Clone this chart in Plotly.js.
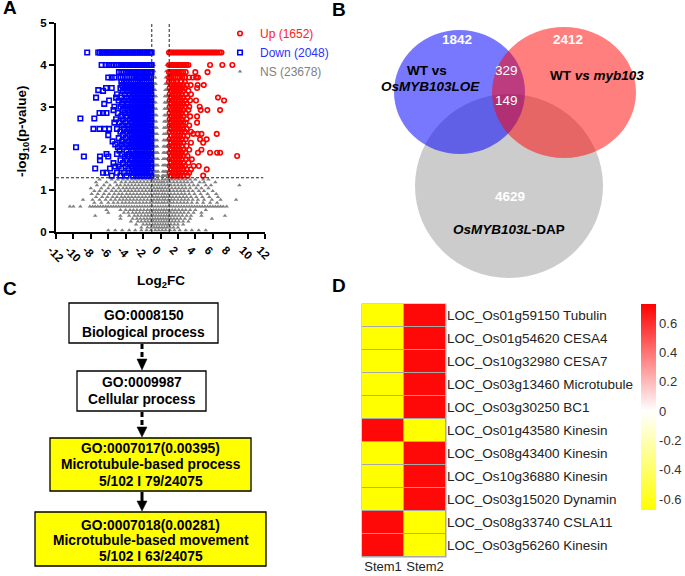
<!DOCTYPE html>
<html><head><meta charset="utf-8">
<script src="https://cdn.plot.ly/plotly-3.0.1.min.js"></script>
<style>body{margin:0;background:#fff}#chart{width:685px;height:576px}</style>
</head><body><div id="chart"></div><script>
const W = 685, H = 576;
const px = v => v / W, py = v => 1 - v / H;
const FONT = 'Liberation Sans, Arial, sans-serif';

// ---------- Panel A: volcano plot (rows of points: [-log10 p, [log2FC...]]) ----------
const upRows = [
 [4.30,[0.98,1.15,1.35,1.55,1.75,1.95,2.15,2.35,2.55,2.75,2.95,3.15,3.35,3.55,3.75,3.95,4.15,4.35,4.55,4.75,4.95,5.15,5.35,5.55,5.75,5.95,6.15,6.35,6.55,6.8,7.0]],
 [4.00,[0.98,1.2,1.4,1.6,1.8,2.0,2.2,2.4,2.6,2.8,3.0,3.2,5.69,7.1,8.25]],
 [3.83,[0.98,1.2,1.4,1.6,1.8,2.0,2.2,2.4,2.6,2.9,4.0,5.4]],
 [3.70,[0.98,1.2,1.45,1.7,1.95,2.2,2.5,2.8,3.3,3.7,4.1,4.3]],
 [3.60,[0.98,1.25,1.5,1.8,2.4,2.8]],
 [3.52,[1.2,1.55,1.9,2.25,2.6,3.0,3.47,4.27,4.97]],
 [3.45,[1.05,1.4,1.75,2.1,2.45,2.8,4.2]],
 [3.38,[1.2,1.55,1.9,2.25,2.6,3.2]],
 [3.30,[1.05,1.4,1.75,2.1,2.45,2.9,3.5]],
 [3.22,[1.2,1.55,1.9,2.25,2.6,3.1,6.6]],
 [3.15,[1.05,1.4,1.75,2.1,2.45,2.8,3.4,4.08,7.3]],
 [3.07,[1.2,1.55,1.9,2.25,2.6,3.0]],
 [3.00,[1.05,1.4,1.75,2.1,2.45,2.85,3.3,4.5]],
 [2.92,[1.2,1.55,1.9,2.25,2.6,3.2,4.62,5.38,6.84]],
 [2.85,[1.05,1.4,1.75,2.1,2.45,2.9]],
 [2.77,[1.2,1.55,1.9,2.25,2.6,3.4,4.2]],
 [2.70,[1.05,1.4,1.75,2.1,2.45,3.0]],
 [2.62,[1.2,1.55,1.9,2.25,2.6,2.9,4.2]],
 [2.55,[1.05,1.4,1.75,2.1,2.45,3.3]],
 [2.47,[1.2,1.55,1.9,2.25,2.6,3.0]],
 [2.40,[1.05,1.4,1.75,2.1,2.45,2.8,3.5]],
 [2.35,[3.77,4.27,4.7,6.46]],
 [2.30,[1.2,1.55,1.9,2.25,2.6,3.1]],
 [2.22,[1.05,1.4,1.75,2.1,2.45,2.9,4.54,5.3]],
 [2.14,[1.2,1.55,1.9,2.25,2.6,3.5,4.9]],
 [2.06,[1.05,1.4,1.75,2.1,2.45,3.0]],
 [1.97,[1.2,1.55,1.9,2.25,2.6,3.3,4.7]],
 [1.90,[1.05,1.4,1.75,2.1,2.45,2.85,4.3,5.69,6.5,6.85]],
 [1.82,[1.2,1.55,1.9,2.25,2.6,3.1,8.8]],
 [1.74,[1.05,1.4,1.75,2.1,2.45,2.9,3.6]],
 [1.66,[1.2,1.55,1.9,2.25,2.6,3.2]],
 [1.58,[1.05,1.4,1.75,2.1,2.45,2.8,3.8,4.4]],
 [1.50,[1.2,1.55,1.9,2.25,2.6,3.0,3.5,5.31]],
 [1.42,[1.05,1.4,1.75,2.1,2.45,2.9,3.3]],
 [1.35,[1.2,1.55,1.9,2.25,2.6,3.1,4.9]]
];
const downRows = [
 [4.30,[-8.42,-7.15,-6.95,-6.75,-6.55,-6.35,-6.15,-5.95,-5.75,-5.55,-5.35,-5.15,-4.95,-4.75,-4.55,-4.35,-4.15,-3.95,-3.75,-3.55,-3.35,-3.15,-2.95,-2.75,-2.55,-2.35,-2.15,-1.95,-1.75,-1.55,-1.35,-1.15,-1.02]],
 [4.00,[-6.76,-6.3,-5.95,-5.65,-5.35,-5.05,-4.75,-4.5,-4.3,-4.1,-3.9,-3.7,-3.5,-3.3,-3.1,-2.9,-2.7,-2.5,-2.3,-2.1,-1.9,-1.7,-1.5,-1.3,-1.1,-1.02]],
 [3.83,[-4.77,-4.5,-4.25,-4.0,-3.8,-3.6,-3.4,-3.2,-3.0,-2.8,-2.6,-2.4,-2.2,-2.0,-1.8,-1.6,-1.4,-1.2,-1.03]],
 [3.70,[-6.0,-5.6,-5.3,-4.6,-4.35,-4.1,-3.85,-3.3,-3.1,-2.9,-2.7,-2.5,-2.3,-2.1,-1.9,-1.7,-1.5,-1.3,-1.1]],
 [3.60,[-4.5,-4.2,-3.9,-3.6,-3.35,-3.1,-2.85,-2.6,-2.35,-2.1,-1.85,-1.6,-1.35,-1.1]],
 [3.52,[-4.4,-3.8,-3.3,-2.95,-2.6,-2.25,-1.9,-1.55,-1.2]],
 [3.45,[-6.25,-5.6,-4.6,-4.0,-3.6,-3.15,-2.8,-2.45,-2.1,-1.75,-1.4,-1.05]],
 [3.40,[-7.15]],
 [3.38,[-6.6,-4.3,-3.85,-3.3,-2.95,-2.6,-2.25,-1.9,-1.55,-1.2]],
 [3.30,[-5.0,-4.1,-3.55,-3.15,-2.8,-2.45,-2.1,-1.75,-1.4,-1.05]],
 [3.22,[-7.4,-5.1,-4.5,-3.9,-3.3,-2.95,-2.6,-2.25,-1.9,-1.55,-1.2]],
 [3.15,[-5.9,-4.8,-4.2,-3.6,-3.15,-2.8,-2.45,-2.1,-1.75,-1.4,-1.05]],
 [3.07,[-6.46,-4.4,-3.8,-3.3,-2.95,-2.6,-2.25,-1.9,-1.55,-1.2]],
 [3.00,[-5.3,-4.6,-4.0,-3.55,-3.15,-2.8,-2.45,-2.1,-1.75,-1.4,-1.05]],
 [2.92,[-5.4,-4.3,-3.75,-3.3,-2.95,-2.6,-2.25,-1.9,-1.55,-1.2]],
 [2.85,[-7.0,-6.6,-6.2,-4.9,-4.1,-3.6,-3.15,-2.8,-2.45,-2.1,-1.75,-1.4,-1.05]],
 [2.77,[-4.5,-3.9,-3.3,-2.95,-2.6,-2.25,-1.9,-1.55,-1.2]],
 [2.72,[-9.2,-7.6]],
 [2.70,[-5.1,-4.3,-3.55,-3.15,-2.8,-2.45,-2.1,-1.75,-1.4,-1.05]],
 [2.62,[-5.3,-4.7,-4.0,-3.3,-2.95,-2.6,-2.25,-1.9,-1.55,-1.2]],
 [2.55,[-4.4,-3.75,-3.15,-2.8,-2.45,-2.1,-1.75,-1.4,-1.05]],
 [2.47,[-7.7,-7.0,-6.4,-5.9,-5.0,-4.2,-3.6,-3.3,-2.95,-2.6,-2.25,-1.9,-1.55,-1.2]],
 [2.40,[-4.6,-3.9,-3.15,-2.8,-2.45,-2.1,-1.75,-1.4,-1.05]],
 [2.32,[-6.0,-4.3,-3.55,-3.3,-2.95,-2.6,-2.25,-1.9,-1.55,-1.2]],
 [2.25,[-4.8,-4.0,-3.15,-2.8,-2.45,-2.1,-1.75,-1.4,-1.05]],
 [2.17,[-5.5,-4.4,-3.7,-3.3,-2.95,-2.6,-2.25,-1.9,-1.55,-1.2]],
 [2.10,[-5.2,-4.5,-3.9,-3.15,-2.8,-2.45,-2.1,-1.75,-1.4,-1.05]],
 [2.03,[-9.7,-4.9,-4.2,-3.55,-3.3,-2.95,-2.6,-2.25,-1.9,-1.55,-1.2]],
 [1.95,[-4.7,-3.9,-3.15,-2.8,-2.45,-2.1,-1.75,-1.4,-1.05]],
 [1.87,[-6.2,-5.0,-4.4,-3.6,-3.3,-2.95,-2.6,-2.25,-1.9,-1.55,-1.2]],
 [1.81,[-8.8,-6.95,-6.0,-4.1,-3.75,-3.15,-2.8,-2.45,-2.1,-1.75,-1.4,-1.05]],
 [1.72,[-6.95,-4.6,-3.9,-3.3,-2.95,-2.6,-2.25,-1.9,-1.55,-1.2]],
 [1.65,[-5.4,-4.3,-3.55,-3.15,-2.8,-2.45,-2.1,-1.75,-1.4,-1.05]],
 [1.57,[-5.2,-4.8,-4.0,-3.3,-2.95,-2.6,-2.25,-1.9,-1.55,-1.2]],
 [1.52,[-7.5,-5.8,-4.5,-3.7,-3.15,-2.8,-2.45,-2.1,-1.75,-1.4,-1.05]],
 [1.42,[-6.6,-6.2,-5.0,-4.2,-3.6,-3.3,-2.95,-2.6,-2.25,-1.9,-1.55,-1.2]],
 [1.35,[-5.6,-4.6,-3.9,-3.15,-2.8,-2.45,-2.1,-1.75,-1.4,-1.05]]
];
const nsRows = [
 [4.00,[-0.95,-0.75,0.7,0.9]],
 [3.85,[-0.9,-0.7,0.65,0.88]],
 [3.70,[-0.95,-0.75,-0.6,0.6,0.8,0.95]],
 [3.55,[-0.9,-0.7,-0.55,0.55,0.75,0.92]],
 [3.40,[-0.95,-0.78,-0.6,0.55,0.72,0.9]],
 [3.25,[-0.9,-0.72,-0.52,0.5,0.7,0.88]],
 [3.10,[-0.95,-0.75,-0.55,0.48,0.66,0.85]],
 [2.95,[-0.88,-0.68,-0.5,0.46,0.64,0.9]],
 [2.80,[-0.95,-0.75,-0.55,-0.45,0.44,0.62,0.82]],
 [2.65,[-0.9,-0.7,-0.5,0.42,0.6,0.8,0.95]],
 [2.50,[-0.95,-0.78,-0.6,-0.42,0.4,0.58,0.78,0.92]],
 [2.35,[-0.88,-0.7,-0.52,-0.4,0.38,0.55,0.75,0.9]],
 [2.20,[-0.95,-0.75,-0.55,-0.38,0.36,0.52,0.7,0.88]],
 [2.05,[-0.9,-0.7,-0.5,-0.35,0.34,0.5,0.68,0.86]],
 [1.90,[-0.95,-0.78,-0.6,-0.42,-0.32,0.32,0.48,0.66,0.84]],
 [1.75,[-0.9,-0.7,-0.52,-0.36,-0.3,0.3,0.45,0.62,0.8,0.95]],
 [1.60,[-0.95,-0.78,-0.6,-0.44,-0.3,0.28,0.42,0.58,0.76,0.92]],
 [1.45,[-0.9,-0.72,-0.55,-0.4,-0.27,0.26,0.4,0.56,0.72,0.9]],
 [1.35,[-0.95,-0.78,-0.6,-0.45,-0.3,-0.22,0.22,0.36,0.52,0.68,0.85]],
 [1.26,[-7.0,-5.6,-4.9,-4.3,-3.8,-3.3,-2.9,-2.5,-2.1,-1.7,-1.3,-0.95,-0.6,-0.25,0.2,0.55,0.9,1.3,1.7,2.1,2.5,2.9,3.4,4.0,4.9,5.5]],
 [1.19,[-7.4,-6.2,-5.2,-4.5,-4.0,-3.5,-3.1,-2.7,-2.3,-1.9,-1.5,-1.1,-0.75,-0.4,-0.1,0.15,0.4,0.75,1.1,1.5,1.9,2.3,2.7,3.1,3.6,4.5,5.0,6.3]],
 [1.12,[-7.3,-6.5,-5.8,-5.0,-4.6,-4.1,-3.7,-3.3,-2.9,-2.5,-2.1,-1.7,-1.3,-0.95,-0.6,-0.25,0.1,0.45,0.8,1.2,1.6,2.0,2.4,2.8,3.3,3.8,4.3,5.2,5.8,9.06]],
 [1.05,[-8.0,-6.8,-6.0,-5.4,-4.8,-4.3,-3.9,-3.5,-3.1,-2.7,-2.3,-1.9,-1.5,-1.1,-0.75,-0.4,-0.1,0.2,0.55,0.9,1.3,1.7,2.1,2.5,2.9,3.4,4.1,4.7,5.5]],
 [0.98,[-7.6,-7.0,-6.3,-5.6,-5.1,-4.6,-4.1,-3.7,-3.3,-2.9,-2.5,-2.1,-1.7,-1.3,-0.95,-0.6,-0.3,0.05,0.35,0.7,1.1,1.5,1.9,2.3,2.7,3.2,3.7,4.4,5.0,6.0]],
 [0.91,[-7.9,-7.2,-6.5,-5.9,-5.3,-4.8,-4.4,-3.9,-3.5,-3.1,-2.7,-2.3,-1.9,-1.5,-1.1,-0.75,-0.45,-0.15,0.2,0.5,0.85,1.2,1.6,2.0,2.4,2.8,3.3,3.9,4.6,5.4,6.4]],
 [0.84,[-7.4,-6.7,-6.1,-5.5,-5.0,-4.5,-4.1,-3.7,-3.3,-2.9,-2.5,-2.1,-1.7,-1.3,-0.9,-0.55,-0.25,0.1,0.4,0.7,1.05,1.4,1.8,2.2,2.6,3.0,3.5,4.1,4.8,5.6,6.6]],
 [0.77,[-8.9,-7.8,-7.0,-6.3,-5.7,-5.2,-4.7,-4.3,-3.9,-3.5,-3.1,-2.7,-2.3,-1.9,-1.5,-1.1,-0.75,-0.4,-0.1,0.25,0.55,0.9,1.25,1.6,2.0,2.4,2.8,3.2,3.7,4.3,5.0,5.9,6.9,8.68]],
 [0.70,[-7.6,-6.8,-6.0,-5.4,-4.9,-4.4,-4.0,-3.6,-3.2,-2.8,-2.4,-2.0,-1.6,-1.2,-0.85,-0.5,-0.2,0.15,0.45,0.8,1.15,1.5,1.9,2.3,2.7,3.1,3.6,4.2,4.9,5.7,6.5]],
 [0.61,[-10.4,-10.0,-9.2,-8.1,-7.8,-7.5,-7.2,-6.9,-6.6,-6.3,-6.0,-5.7,-5.4,-5.1,-4.8,-4.5,-4.2,-3.9,-3.6,-3.3,-3.0,-2.7,-2.4,-2.1,-1.8,-1.5,-1.2,-0.9,-0.6,-0.3,0,0.3,0.6,0.9,1.2,1.5,1.8,2.1,2.4,2.7,3.0,3.3,3.6,3.9,4.2,4.5,4.8,5.1,5.4,5.7,6.0,6.3,6.6,6.9,7.2,7.6]],
 [0.53,[-6.2,-4.6,-4.0,-3.5,-3.1,-2.7,-2.3,-1.9,-1.5,-1.15,-0.8,-0.5,-0.2,0.1,0.4,0.7,1.0,1.35,1.7,2.1,2.5,2.9,3.4,4.0,5.2]],
 [0.46,[-6.0,-4.2,-3.7,-3.2,-2.8,-2.4,-2.0,-1.6,-1.25,-0.9,-0.6,-0.3,0,0.3,0.6,0.9,1.2,1.55,1.9,2.3,2.7,3.2,3.8,4.7]],
 [0.39,[-7.5,-4.6,-3.6,-3.0,-2.6,-2.2,-1.8,-1.45,-1.1,-0.8,-0.5,-0.2,0.1,0.4,0.7,1.0,1.35,1.7,2.1,2.5,3.0,3.5,4.7,7.4]],
 [0.32,[-4.6,-3.2,-2.7,-2.3,-1.9,-1.55,-1.2,-0.9,-0.6,-0.3,0,0.3,0.6,0.9,1.2,1.55,1.9,2.3,2.8,3.4,5.9]],
 [0.25,[-3.4,-2.6,-2.2,-1.8,-1.45,-1.1,-0.8,-0.5,-0.2,0.1,0.4,0.7,1.0,1.35,1.7,2.1,2.6,3.2]],
 [0.18,[-2.8,-2.0,-1.6,-1.25,-0.9,-0.6,-0.3,0,0.3,0.6,0.9,1.2,1.6,2.0,2.6]],
 [0.11,[-2.2,-1.5,-1.1,-0.75,-0.45,-0.15,0.15,0.45,0.75,1.1,1.5,2.0]],
 [0.04,[-6.0,-5.2,-4.4,-3.6,-2.9,-2.2,-1.6,-1.1,-0.6,-0.2,0.2,0.6,1.1,1.6,2.2,2.9,3.6,4.4,5.2]]
];
const legendNames = ['Up (1652)', 'Down (2048)', 'NS (23678)'];
const fcCut = 1, pCut = 1.3;
const xTicks = [-12,-10,-8,-6,-4,-2,0,2,4,6,8,10,12];

// ---------- Panel B: Venn ----------
const vennSets = ['WT vs OsMYB103LOE', 'WT vs myb103', 'OsMYB103L-DAP'];
const vennCounts = [1842, 2412, 4629, 329, 149];

// ---------- Panel C: GO hierarchy ----------
const goIds = ['GO:0008150', 'GO:0009987', 'GO:0007017', 'GO:0007018'];
const goP = ['', '', '0.00395', '0.00281'];
const goNames = ['Biological process', 'Cellular process', 'Microtubule-based process', 'Microtubule-based movement'];
const goRatios = ['', '', '5/102 I 79/24075', '5/102 I 63/24075'];

// ---------- Panel D: heatmap ----------
const genes = ['LOC_Os01g59150 Tubulin','LOC_Os01g54620 CESA4','LOC_Os10g32980 CESA7','LOC_Os03g13460 Microtubule','LOC_Os03g30250 BC1','LOC_Os01g43580 Kinesin','LOC_Os08g43400 Kinesin','LOC_Os10g36880 Kinesin','LOC_Os03g15020 Dynamin','LOC_Os08g33740 CSLA11','LOC_Os03g56260 Kinesin'];
const samples = ['Stem1', 'Stem2'];
const stem1 = [-0.707,-0.707,-0.707,-0.707,-0.707,0.707,-0.707,-0.707,-0.707,0.707,0.707];
const stem2 = [0.707,0.707,0.707,0.707,0.707,-0.707,0.707,0.707,0.707,-0.707,-0.707];
const cbTicks = [0.6,0.4,0.2,0,-0.2,-0.4,-0.6];
const zMin = -0.675, zMax = 0.73;

function flat(rows) { const x = [], y = []; rows.forEach(r => r[1].forEach(v => { x.push(v); y.push(r[0]); })); return {x, y}; }
const ns = flat(nsRows), dn = flat(downRows), up = flat(upRows);

const traces = [
  {type:'scatter', mode:'markers', x:ns.x, y:ns.y, name:'<span style="color:#7f7f7f">' + legendNames[2] + '</span>', legendrank:3,
   marker:{symbol:'triangle-up', size:4, color:'#808080'}, hoverinfo:'skip'},
  {type:'scatter', mode:'markers', x:dn.x, y:dn.y, name:'<span style="color:#2f2fff">' + legendNames[1] + '</span>', legendrank:2,
   marker:{symbol:'square-open', size:4.5, color:'#0000ff', line:{width:1.6, color:'#0000ff'}}, hoverinfo:'skip'},
  {type:'scatter', mode:'markers', x:up.x, y:up.y, name:'<span style="color:#ff2020">' + legendNames[0] + '</span>', legendrank:1,
   marker:{symbol:'circle-open', size:4.5, color:'#ff0000', line:{width:1.6, color:'#ff0000'}}, hoverinfo:'skip'},
  {type:'heatmap', x:samples, y:genes, z:genes.map((g,i) => [stem1[i], stem2[i]]), xaxis:'x3', yaxis:'y3',
   zmin:zMin, zmax:zMax, xgap:1, ygap:1, showlegend:false, hoverinfo:'skip',
   colorscale:[[0,'rgb(255,255,0)'],[(0 - zMin)/(zMax - zMin),'rgb(255,255,255)'],[1,'rgb(255,0,0)']],
   colorbar:{x:px(641), xanchor:'left', xpad:0, ypad:0, thickness:15, len:206, lenmode:'pixels', y:py(407), yanchor:'middle',
     outlinewidth:0, tickvals:cbTicks, ticktext:cbTicks.map(v => String(v)), ticks:'', tickfont:{family:FONT, size:13, color:'#333'}}}
];

const shapes = [];
const annotations = [];
function ann(text, x, y, o) { annotations.push(Object.assign({text, x:px(x), y:py(y), xref:'paper', yref:'paper', showarrow:false, xanchor:'center', yanchor:'middle', font:{family:FONT, size:13, color:'#000'}}, o || {})); }

// Panel A threshold lines
[-fcCut, fcCut].forEach(v => shapes.push({type:'line', xref:'x', yref:'y', x0:v, x1:v, y0:0, y1:5, line:{color:'#222', width:1, dash:'3px,2px'}}));
shapes.push({type:'line', xref:'x', yref:'y', x0:-12, x1:11.8, y0:pCut, y1:pCut, line:{color:'#222', width:1, dash:'3px,2px'}});
ann('<b>-log<sub>10</sub>(p-value)</b>', 22, 131, {textangle:-90, font:{family:FONT, size:13.5, color:'#000'}});
ann('<b>Log<sub>2</sub>FC</b>', 160.5, 282, {font:{family:FONT, size:13.5, color:'#000'}});

// Panel labels
ann('<b>A</b>', 9.5, 8, {font:{family:FONT, size:19, color:'#000'}});
ann('<b>B</b>', 338.5, 9, {font:{family:FONT, size:19, color:'#000'}});
ann('<b>C</b>', 9.5, 288, {font:{family:FONT, size:19, color:'#000'}});
ann('<b>D</b>', 338.5, 285.5, {font:{family:FONT, size:19, color:'#000'}});

// Panel B Venn circles
const circ = (x0, x1, y0, y1, fill) => shapes.push({type:'circle', xref:'paper', yref:'paper', x0:px(x0), x1:px(x1), y0:py(y1), y1:py(y0), fillcolor:fill, line:{width:0}});
circ(415, 603, 94, 278, 'rgb(204,204,204)');
circ(394, 525, 30, 154, 'rgba(0,0,255,0.53)');
circ(492, 636, 27, 158, 'rgba(255,0,0,0.5)');
const vf = {family:FONT, size:13.5, color:'#000'};
const vw = {family:FONT, size:13.5, color:'#fff'};
ann('<b>' + vennCounts[0] + '</b>', 457, 39.5, {font:vw});
ann('<b>' + vennCounts[1] + '</b>', 568, 39.5, {font:vw});
ann('<b>' + vennCounts[2] + '</b>', 510, 196, {font:vw});
ann(String(vennCounts[3]), 506.5, 71, {font:vw});
ann(String(vennCounts[4]), 506.5, 100, {font:vw});
ann('<b>WT vs</b>', 427, 70, {font:vf});
ann('<b><i>OsMYB103LOE</i></b>', 430, 87, {font:vf});
ann('<b>WT <i>vs myb103</i></b>', 597, 76, {font:vf});
ann('<b><i>OsMYB103L</i>-DAP</b>', 509, 229, {font:vf});

// Panel C boxes
const boxes = [[69,218,303,343,'#ffffff'],[77,206,371,411,'#ffffff'],[50,251,438,491,'#ffff00'],[35,266,512,566,'#ffff00']];
boxes.forEach(b => shapes.push({type:'rect', xref:'paper', yref:'paper', x0:px(b[0]), x1:px(b[1]), y0:py(b[3]), y1:py(b[2]), fillcolor:b[4], line:{color:'#000', width:1.3}}));
const arrows = [[344,360,370,'5px,3px'],[412,428,437,'5px,3px'],[492,502,511,'solid']];
arrows.forEach(a => {
  shapes.push({type:'line', xref:'paper', yref:'paper', x0:px(142), x1:px(142), y0:py(a[0]), y1:py(a[1]), line:{color:'#000', width:3, dash:a[3]}});
  shapes.push({type:'path', xref:'paper', yref:'paper', path:`M ${px(137)} ${py(a[1]-1)} L ${px(147)} ${py(a[1]-1)} L ${px(142)} ${py(a[2])} Z`, fillcolor:'#000', line:{color:'#000', width:0.5}});
});
const bf = {family:FONT, size:13.8, color:'#000'};
const goLines = [
  [[goIds[0], 315.7], [goNames[0], 332.3]],
  [[goIds[1], 382.7], [goNames[1], 399]],
  [[goIds[2] + '(' + goP[2] + ')', 448.3], [goNames[2], 464.3], [goRatios[2], 481]],
  [[goIds[3] + '(' + goP[3] + ')', 525], [goNames[3], 540.3], [goRatios[3], 556]]
];
const goCx = [143.5, 141.5, 150.5, 150.5];
goLines.forEach((ls, i) => ls.forEach(l => ann('<b>' + l[0] + '</b>', goCx[i], l[1], {font:bf})));

// Panel D grid background
shapes.push({type:'rect', xref:'paper', yref:'paper', layer:'below', x0:px(361.5), x1:px(446.5), y0:py(557.5), y1:py(303.5), fillcolor:'#a8a8a8', line:{width:0}});

const layout = {
  width:W, height:H, margin:{l:0, r:0, t:0, b:0}, paper_bgcolor:'#fff', plot_bgcolor:'rgba(0,0,0,0)',
  font:{family:FONT, color:'#000'},
  showlegend:true,
  legend:{x:px(220), y:py(19), xanchor:'left', yanchor:'top', bgcolor:'rgba(0,0,0,0)', font:{family:FONT, size:12}, itemwidth:30},
  xaxis:{domain:[px(56), px(265)], range:[-12,12], tickvals:xTicks, ticktext:xTicks.map(String), tickangle:45, ticklabelshift:-5,
    ticks:'outside', ticklen:5, tickwidth:2, tickcolor:'#000', showline:true, linewidth:2, linecolor:'#000',
    showgrid:false, zeroline:false, tickfont:{family:FONT, size:11.5, weight:'bold'}, anchor:'y'},
  yaxis:{domain:[py(232), py(23.3)], range:[0,5], tickvals:[0,1,2,3,4,5], ticks:'outside', ticklen:5, tickwidth:2, tickcolor:'#000',
    showline:true, linewidth:2, linecolor:'#000', showgrid:false, zeroline:false, tickfont:{family:FONT, size:11.5, weight:'bold'}, anchor:'x'},
  xaxis3:{domain:[px(362), px(446)], anchor:'y3', ticks:'', showgrid:false, zeroline:false, showline:false, tickfont:{family:FONT, size:13, color:'#222'}},
  yaxis3:{domain:[py(557), py(304)], anchor:'x3', side:'right', autorange:'reversed', ticks:'', showgrid:false, zeroline:false, showline:false, tickfont:{family:FONT, size:13.5, color:'#222'}},
  shapes, annotations
};
Plotly.newPlot('chart', traces, layout, {staticPlot:true, displayModeBar:false});
</script></body></html>
